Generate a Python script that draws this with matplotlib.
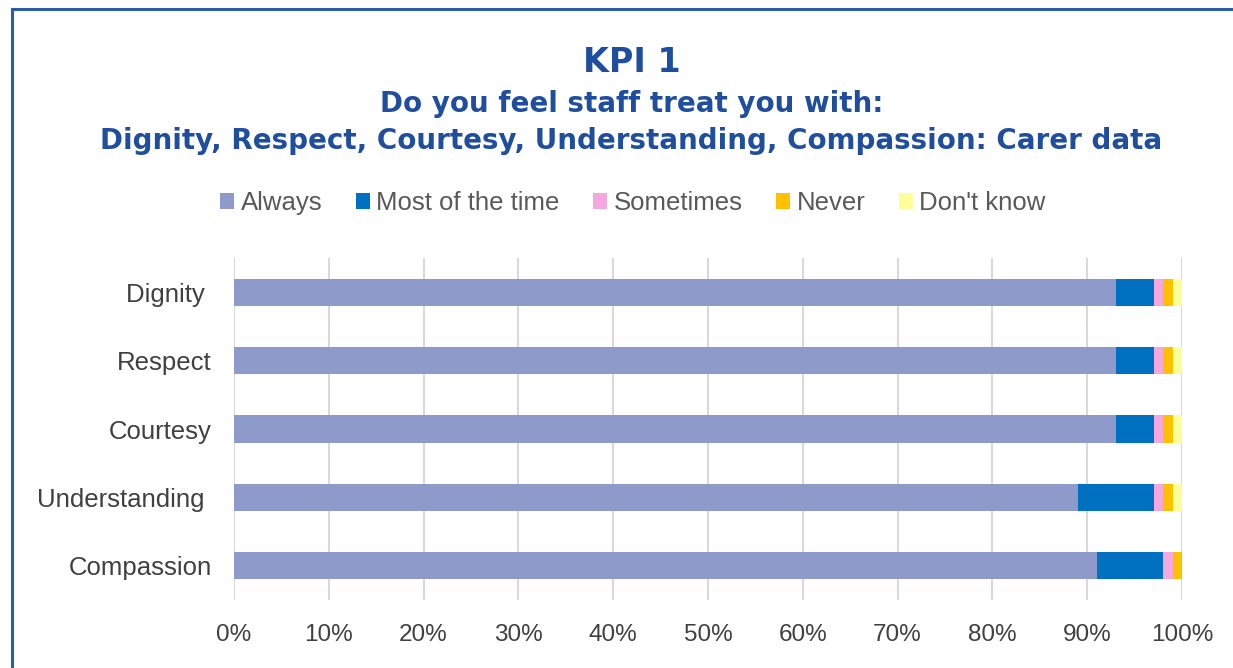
import numpy as np
import matplotlib
matplotlib.use("Agg")
import matplotlib.pyplot as plt
from matplotlib.patches import Rectangle
from matplotlib.ticker import PercentFormatter

categories = ["Dignity ", "Respect", "Courtesy", "Understanding ", "Compassion"]
series = ["Always", "Most of the time", "Sometimes", "Never", "Don't know"]
always = [93, 93, 93, 89, 91]
most = [4, 4, 4, 8, 7]
sometimes = [1, 1, 1, 1, 1]
never = [1, 1, 1, 1, 1]
dont_know = [1, 1, 1, 1, 0]
colors = ["#8E9ACA", "#0070C0", "#F4A7E1", "#FFC000", "#FFFF99"]

plt.rcParams['font.family'] = ['Liberation Sans', 'DejaVu Sans']

fig = plt.figure(figsize=(12.33, 6.68), dpi=100)
ax = fig.add_axes([234 / 1233, 1 - 600 / 668, 948 / 1233, 342 / 668])

# frame around the chart
fig.patches.append(Rectangle((12 / 1233, -0.05), 1.2, 1 - 9 / 668 + 0.05,
                             transform=fig.transFigure, fill=False,
                             edgecolor="#2E5CA8", linewidth=2.2))

y = np.arange(len(categories))
left = np.zeros(len(categories))
for name, vals, col in zip(series, [always, most, sometimes, never, dont_know], colors):
    vals = np.array(vals, dtype=float) / 100
    ax.barh(y, vals, left=left, height=0.4, color=col, label=name, zorder=3)
    left += vals

ax.set_ylim(len(categories) - 0.5, -0.5)
ax.set_xlim(0, 1)
ax.set_yticks(y)
ax.set_yticklabels(categories)
ax.set_xticks(np.linspace(0, 1, 11))
ax.xaxis.set_major_formatter(PercentFormatter(1.0, decimals=0))
ax.tick_params(axis='both', length=0, labelcolor="#404040")
ax.tick_params(axis='y', pad=16, labelsize=18.5)
ax.tick_params(axis='x', pad=17, labelsize=17.5)
ax.grid(axis='x', color="#D9D9D9", linewidth=1.5, zorder=0)
for s in ax.spines.values():
    s.set_visible(False)

fig.legend(*ax.get_legend_handles_labels(), loc='center',
           bbox_to_anchor=(633 / 1233, 1 - 203 / 668), ncol=5, frameon=False,
           fontsize=18.5, handlelength=0.55, handleheight=0.55, handletextpad=0.25,
           columnspacing=1.3, labelcolor="#595959")

fig.text(632 / 1233, 1 - 62 / 668, "KPI 1", ha='center', va='center',
         fontsize=24, fontweight='bold', color="#1F4E9E", family=['DejaVu Sans'])
fig.text(632 / 1233, 1 - 104 / 668, "Do you feel staff treat you with:", ha='center',
         va='center', fontsize=20, fontweight='bold', color="#1F4E9E", family=['DejaVu Sans'])
fig.text(631 / 1233, 1 - 141 / 668,
         "Dignity, Respect, Courtesy, Understanding, Compassion: Carer data",
         ha='center', va='center', fontsize=20, fontweight='bold', color="#1F4E9E",
         family=['DejaVu Sans'])

fig.savefig("out.png", dpi=100)
